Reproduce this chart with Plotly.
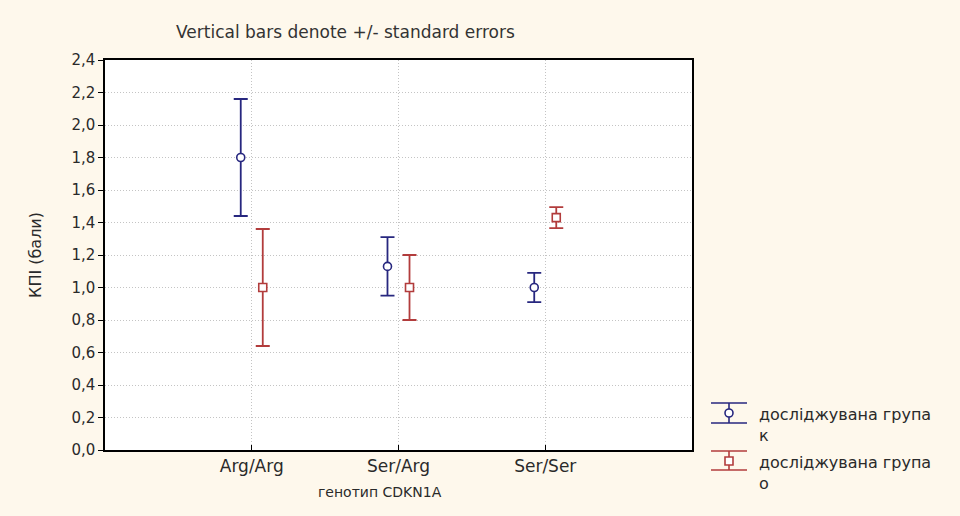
import plotly.graph_objects as go

categories = ["Arg/Arg", "Ser/Arg", "Ser/Ser"]
series_names = ["досліджувана група<br>к", "досліджувана група<br>о"]
means_k = [1.80, 1.13, 1.00]
se_k = [0.36, 0.18, 0.09]
means_o = [1.00, 1.00, 1.43]
se_o = [0.36, 0.20, 0.065]
y_ticks = [0.0, 0.2, 0.4, 0.6, 0.8, 1.0, 1.2, 1.4, 1.6, 1.8, 2.0, 2.2, 2.4]

BLUE = "#27277f"
RED = "#b23c3c"
BG = "#fef8ec"
FONT = "DejaVu Sans, Arial, sans-serif"
TXT = "#2a2a2a"
GRID = "#c4c4c4"

W, H = 960, 516
L, R, T, B = 105, 268, 60, 66
PW, PH = W - L - R, H - T - B


def px(x):
    return (x - L) / PW


def py(y):
    return (H - B - y) / PH


fig = go.Figure()
for name, m, se, col, sym in [
    (series_names[0], means_k, se_k, BLUE, "circle"),
    (series_names[1], means_o, se_o, RED, "square"),
]:
    fig.add_trace(go.Scatter(
        x=categories, y=m, mode="markers", name=name,
        marker=dict(symbol=sym, size=8, color="white", line=dict(color=col, width=1.6)),
        error_y=dict(type="data", array=se, visible=True, color=col, thickness=1.8, width=7),
        showlegend=False,
    ))

fig.update_layout(
    width=W, height=H,
    margin=dict(l=L, r=R, t=T, b=B),
    paper_bgcolor=BG, plot_bgcolor="white",
    scattermode="group", scattergap=0.7,
    separators=", ",
    font=dict(family=FONT, size=15, color=TXT),
    title=dict(text="Vertical bars denote +/- standard errors", x=176 / W, xanchor="left",
               y=1 - 32 / H, yanchor="middle", xref="container", yref="container",
               font=dict(size=17, color="#333")),
    xaxis=dict(
        type="category", range=[-1, 3], tickvals=categories, ticktext=categories,
        showgrid=True, griddash="1px,2px", gridcolor=GRID, gridwidth=1,
        showline=True, linecolor="black", linewidth=1.5, mirror=True,
        ticks="inside", ticklen=5, tickcolor="black",
        tickfont=dict(size=17, color=TXT), zeroline=False,
    ),
    yaxis=dict(
        range=[0, 2.4], tickvals=y_ticks, tickformat=".1f",
        showgrid=True, griddash="1px,2px", gridcolor=GRID, gridwidth=1,
        showline=True, linecolor="black", linewidth=1.5, mirror=True,
        ticks="outside", ticklen=5, tickcolor="black",
        tickfont=dict(size=15, color=TXT), zeroline=False,
        title=dict(text="КПІ (бали)", font=dict(size=16, color=TXT), standoff=26),
    ),
    yaxis2=dict(range=[0, 2.4], tickvals=y_ticks, overlaying="y", side="right",
                ticks="inside", ticklen=5, tickcolor="black", showticklabels=False,
                showgrid=False, zeroline=False),
)

fig.add_annotation(text="генотип CDKN1A", x=px(380), y=py(492), xref="paper", yref="paper",
                   xanchor="center", yanchor="middle",
                   showarrow=False, font=dict(size=14, color=TXT))

# custom legend with error-bar icons
legend_items = [
    (series_names[0], BLUE, "circle", 403, 423, 413),
    (series_names[1], RED, "rect", 451, 470, 461),
]
for name, col, shp, ytop, ybot, ymid in legend_items:
    cx = 729
    for yy in (ytop, ybot):
        fig.add_shape(type="line", xref="paper", yref="paper", x0=px(711), x1=px(747),
                      y0=py(yy), y1=py(yy), line=dict(color=col, width=1.6))
    fig.add_shape(type="line", xref="paper", yref="paper", x0=px(cx), x1=px(cx),
                  y0=py(ytop), y1=py(ybot), line=dict(color=col, width=1.6))
    fig.add_shape(type=shp, xref="paper", yref="paper", x0=px(cx - 4), x1=px(cx + 4),
                  y0=py(ymid - 4), y1=py(ymid + 4), line=dict(color=col, width=1.6),
                  fillcolor="white")
    fig.add_annotation(text=name, x=px(757), y=py(ymid - 10), xref="paper", yref="paper",
                       xanchor="left", yanchor="top", align="left", showarrow=False,
                       font=dict(size=16, color=TXT))

fig.write_html("out.html", config={"displayModeBar": False},
               post_script="document.body.style.margin='0';")
